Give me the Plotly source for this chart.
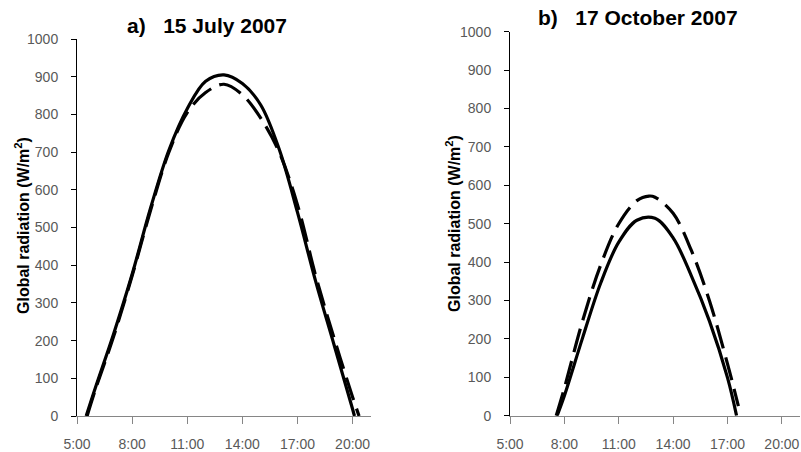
import plotly.graph_objects as go

# Global radiation, 15 July 2007 (hours of day, W/m2)
july_hours_solid = [5.5, 6, 7, 8, 9, 10, 11, 12, 13, 14, 15, 16, 17, 18, 19, 20, 20.1]
july_solid = [0, 75, 219, 376, 551, 705, 815, 888, 905, 882, 825, 708, 540, 355, 187, 18, 0]
july_hours_dash = [5.55, 6, 7, 8, 9, 10, 11, 12, 13, 14, 15, 16, 17, 18, 19, 20, 20.35]
july_dash = [0, 70, 212, 372, 545, 700, 805, 858, 880, 852, 790, 700, 560, 370, 205, 50, 0]

# Global radiation, 17 October 2007
oct_hours_solid = [7.6, 8, 9, 10, 11, 12, 13, 14, 15, 16, 17, 17.5]
oct_solid = [0, 52, 202, 345, 452, 509, 514, 463, 365, 247, 99, 0]
oct_hours_dash = [7.55, 8, 9, 10, 11, 12, 12.67, 13, 14, 15, 16, 17, 17.6]
oct_dash = [0, 72, 246, 392, 500, 560, 572, 569, 527, 431, 300, 135, 25]

x_tickvals = [5, 8, 11, 14, 17, 20]
x_ticktext = ["5:00", "8:00", "11:00", "14:00", "17:00", "20:00"]
y_tickvals = list(range(0, 1001, 100))

panel_titles = ["a)\u00a0\u00a0\u00a015 July 2007", "b)\u00a0\u00a0\u00a017 October 2007"]
y_title = "Global radiation (W/m<sup>2</sup>)"

W, H = 801, 452
FONT = "Liberation Sans, Arial, sans-serif"
GREY_TXT = "#595959"

fig = go.Figure()

line_solid = dict(color="black", width=3.2, shape="spline")
line_dash = dict(color="black", width=3.2, shape="spline", dash="24px,9px")

fig.add_trace(go.Scatter(x=july_hours_solid, y=july_solid, mode="lines", line=line_solid,
                         xaxis="x", yaxis="y", showlegend=False, name="Measured"))
fig.add_trace(go.Scatter(x=july_hours_dash, y=july_dash, mode="lines", line=line_dash,
                         xaxis="x", yaxis="y", showlegend=False, name="Modelled"))
fig.add_trace(go.Scatter(x=oct_hours_solid, y=oct_solid, mode="lines", line=line_solid,
                         xaxis="x2", yaxis="y2", showlegend=False, name="Measured"))
fig.add_trace(go.Scatter(x=oct_hours_dash, y=oct_dash, mode="lines", line=line_dash,
                         xaxis="x2", yaxis="y2", showlegend=False, name="Modelled"))

# pixel geometry of the two panels
left = dict(x0=77, x1=371, y0=416, y1=39)
right = dict(x0=510, x1=800, y0=415.7, y1=31.7)


def xdom(p):
    return [p["x0"] / W, p["x1"] / W]


def ydom(p):
    return [(H - p["y0"]) / H, (H - p["y1"]) / H]


xaxis_common = dict(range=[5, 21], tickvals=x_tickvals, ticktext=x_ticktext,
                    showgrid=False, zeroline=False, showline=True, linecolor="#868686",
                    linewidth=1, ticks="outside", ticklen=7, tickcolor="#868686",
                    tickfont=dict(family=FONT, size=14, color=GREY_TXT),
                    ticklabelstandoff=8, fixedrange=True, automargin=False)
yaxis_common = dict(range=[0, 1000], tickvals=y_tickvals, showgrid=False, zeroline=False,
                    showline=True, linecolor="black", linewidth=1, ticks="outside",
                    ticklen=5, tickcolor="black",
                    tickfont=dict(family=FONT, size=14, color=GREY_TXT),
                    ticklabelstandoff=10, fixedrange=True, automargin=False)

fig.update_layout(
    width=W, height=H,
    margin=dict(l=0, r=0, t=0, b=0, pad=0, autoexpand=False),
    paper_bgcolor="white", plot_bgcolor="white",
    xaxis=dict(domain=xdom(left), anchor="y", **xaxis_common),
    yaxis=dict(domain=ydom(left), anchor="x", **yaxis_common),
    xaxis2=dict(domain=xdom(right), anchor="y2", **xaxis_common),
    yaxis2=dict(domain=ydom(right), anchor="x2", **yaxis_common),
)

annotations = [
    dict(text=panel_titles[0], x=207 / W, y=1 - 25 / H),
    dict(text=panel_titles[1], x=638 / W, y=1 - 17 / H),
]
for a in annotations:
    fig.add_annotation(xref="paper", yref="paper", x=a["x"], y=a["y"], text="<b>" + a["text"] + "</b>",
                       showarrow=False, xanchor="center", yanchor="middle",
                       font=dict(family=FONT, size=21, color="black"))

for xc, yc in [(22, 226), (453, 224)]:
    fig.add_annotation(xref="paper", yref="paper", x=xc / W, y=1 - yc / H,
                       text="<b>" + y_title + "</b>", textangle=-90, showarrow=False,
                       xanchor="center", yanchor="middle",
                       font=dict(family=FONT, size=16, color="black"))

fig.write_html("out.html")
